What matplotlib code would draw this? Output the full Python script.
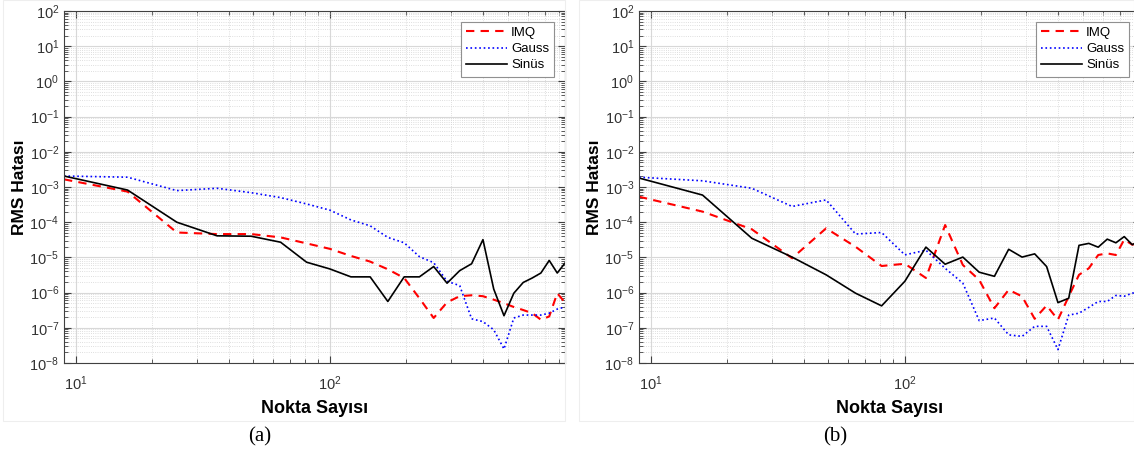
import matplotlib
matplotlib.use("Agg")
import matplotlib.pyplot as plt
from matplotlib.ticker import LogLocator, NullFormatter

plt.rcParams['font.family'] = ['Liberation Sans', 'DejaVu Sans']
plt.rcParams['mathtext.fontset'] = 'custom'
plt.rcParams['mathtext.rm'] = 'Liberation Sans'
plt.rcParams['mathtext.it'] = 'Liberation Sans:italic'
plt.rcParams['mathtext.bf'] = 'Liberation Sans:bold'

# number of points (x axis)
nokta = [9, 16, 25, 36, 49, 64, 81, 100, 121, 144, 169, 196, 225, 256,
         289, 324, 361, 400, 441, 484, 529, 576, 625, 676, 729, 784, 841]

# panel (a)
a_imq = [1.65e-3, 7.4e-4, 5.1e-5, 4.6e-5, 4.6e-5, 3.7e-5, 2.5e-5, 1.75e-5,
         1.1e-5, 7.6e-6, 4.6e-6, 2.6e-6, 6.9e-7, 1.9e-7, 5.3e-7, 7.9e-7,
         8.4e-7, 7.9e-7, 6.3e-7, 5.0e-7, 3.9e-7, 3.2e-7, 2.6e-7, 1.7e-7,
         2.1e-7, 9.6e-7, 5.2e-7]
a_gauss = [2.05e-3, 1.9e-3, 7.9e-4, 9.2e-4, 6.9e-4, 5.0e-4, 3.3e-4, 2.2e-4,
           1.16e-4, 7.9e-5, 3.7e-5, 2.6e-5, 1.05e-5, 7.1e-6, 2.1e-6, 1.58e-6,
           1.8e-7, 1.5e-7, 8.8e-8, 2.5e-8, 1.9e-7, 2.3e-7, 2.3e-7, 2.3e-7,
           2.6e-7, 3.4e-7, 3.9e-7]
a_sinus = [2.05e-3, 8.2e-4, 1.0e-4, 4.1e-5, 4.0e-5, 2.7e-5, 7.3e-6, 4.7e-6,
           2.8e-6, 2.8e-6, 5.6e-7, 2.8e-6, 2.8e-6, 5.5e-6, 1.85e-6, 4.2e-6,
           6.6e-6, 3.2e-5, 1.26e-6, 2.2e-7, 9.6e-7, 1.94e-6, 2.6e-6, 3.6e-6,
           8.2e-6, 3.6e-6, 6.9e-6]

# panel (b)
b_imq = [5.3e-4, 2.0e-4, 6.3e-5, 9.5e-6, 6.7e-5, 2.0e-5, 5.7e-6, 6.6e-6,
         2.6e-6, 8.3e-5, 6.1e-6, 2.3e-6, 3.6e-7, 1.2e-6, 7.8e-7, 1.8e-7,
         4.3e-7, 1.7e-7, 7.8e-7, 3.2e-6, 4.9e-6, 1.17e-5, 1.3e-5, 1.17e-5,
         3.2e-5, 2.3e-5, 2.5e-5]
b_gauss = [1.9e-3, 1.5e-3, 9.2e-4, 2.8e-4, 4.3e-4, 4.6e-5, 5.1e-5, 1.18e-5,
           1.6e-5, 4.9e-6, 1.86e-6, 1.6e-7, 1.9e-7, 6.3e-8, 5.7e-8, 1.1e-7,
           1.1e-7, 2.4e-8, 2.3e-7, 2.6e-7, 3.8e-7, 5.6e-7, 5.6e-7, 8.3e-7,
           7.9e-7, 9.6e-7, 1.1e-6]
b_sinus = [1.8e-3, 5.9e-4, 3.5e-5, 1.02e-5, 3.2e-6, 9.6e-7, 4.2e-7, 2.1e-6,
           1.96e-5, 6.4e-6, 1.02e-5, 3.8e-6, 2.9e-6, 1.7e-5, 1.02e-5, 1.26e-5,
           5.5e-6, 5.2e-7, 6.9e-7, 2.2e-5, 2.5e-5, 1.95e-5, 3.3e-5, 2.6e-5,
           3.9e-5, 2.3e-5, 3.0e-5]

panels = [("(a)", a_imq, a_gauss, a_sinus), ("(b)", b_imq, b_gauss, b_sinus)]

W, H = 1134, 454
fig = plt.figure(figsize=(W / 100, H / 100), dpi=100)

# faint borders of the two sub-pictures
for x0, x1 in [(3, 565), (579, 1134)]:
    fig.add_artist(plt.Rectangle((x0 / W, 1 - 421 / H), (x1 - x0) / W, 421 / H,
                                 transform=fig.transFigure, fill=False,
                                 edgecolor='#eeeeee', lw=0.8))

ax_left = [64, 639]
for (cap, imq, gauss, sinus), x0 in zip(panels, ax_left):
    ax = fig.add_axes([x0 / W, 1 - 363 / H, 501 / W, 352 / H])
    ax.loglog(nokta, imq, color='#ff0000', lw=1.5, dashes=(4, 3), label='IMQ')
    ax.loglog(nokta, gauss, color='#0000ff', lw=1.2, ls=':', label='Gauss')
    ax.loglog(nokta, sinus, color='black', lw=1.2, label='Sinüs')
    ax.set_xlim(9, 841)
    ax.set_ylim(1e-8, 1e2)

    ax.yaxis.set_major_locator(LogLocator(base=10, numticks=20))
    ax.yaxis.set_minor_locator(LogLocator(base=10, subs=range(2, 10), numticks=20))
    ax.xaxis.set_minor_formatter(NullFormatter())
    ax.yaxis.set_minor_formatter(NullFormatter())

    ax.grid(True, which='major', color='#d8d8d8', lw=0.8, ls='-')
    ax.grid(True, which='minor', color='#d4d4d4', lw=0.6, ls=':')
    ax.set_axisbelow(True)
    ax.tick_params(which='both', direction='in', top=True, right=True,
                   colors='#404040', labelcolor='#333333', labelsize=10.5)
    ax.tick_params(which='major', length=5, width=0.8)
    ax.tick_params(which='minor', length=3, width=0.6)
    ax.tick_params(axis='x', pad=8)
    for s in ax.spines.values():
        s.set_color('#404040')
        s.set_linewidth(0.8)

    ax.set_ylabel('RMS Hatası', fontsize=12.5, fontweight='bold', labelpad=2)
    ax.set_xlabel('Nokta Sayısı', fontsize=13, fontweight='bold', labelpad=5)

    leg = ax.legend(loc='upper right', fontsize=9.5, handlelength=3.1,
                    fancybox=False, framealpha=1, edgecolor='#909090',
                    borderaxespad=0.8, labelspacing=0.3, handletextpad=0.3,
                    borderpad=0.4)
    leg.get_frame().set_linewidth(0.8)

    fig.text((x0 + 196) / W, 1 - 437 / H, cap, ha='center', va='center',
             fontsize=15, family=['Liberation Serif', 'DejaVu Serif'])

fig.savefig('out.png', dpi=100)
